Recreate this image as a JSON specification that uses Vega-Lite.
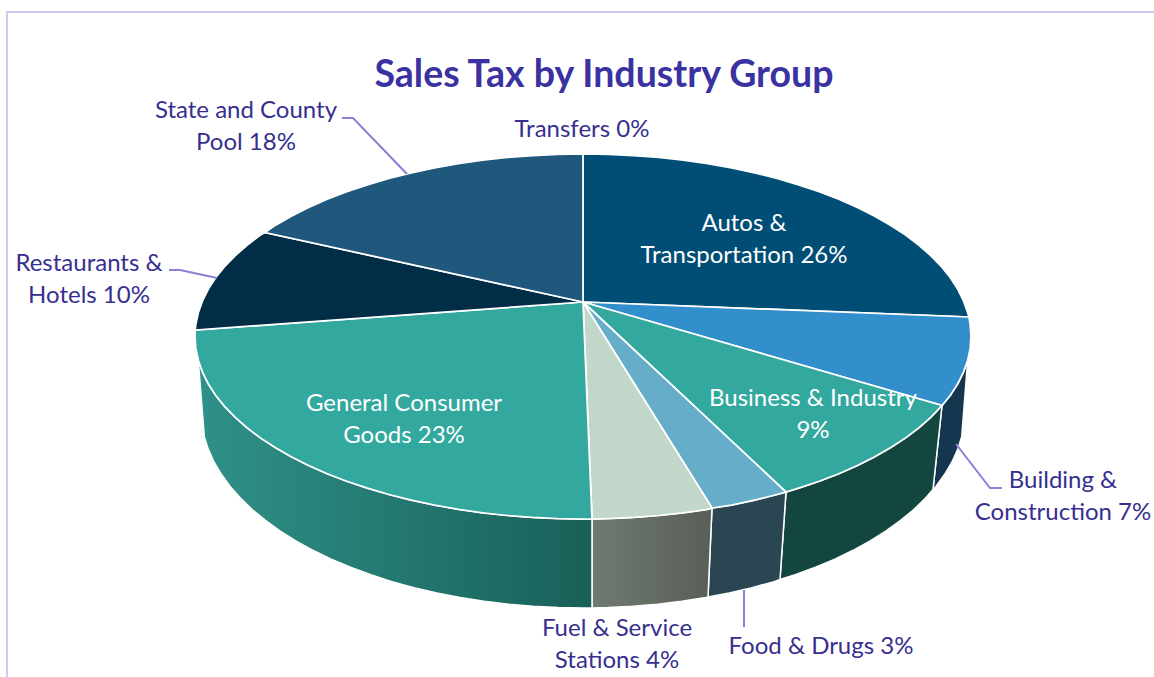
{"$schema":"https://vega.github.io/schema/vega-lite/v6.json","width":1154,"height":677,"padding":0,"autosize":"none","background":"white","config":{"view":{"stroke":null}},
"title":{"text":"Sales Tax by Industry Group","font":"Lato","fontSize":37.5,"fontWeight":"bold","color":"#3A32A0","anchor":"middle","frame":"group","offset":-88,"dy":36,"dx":27,"baseline":"alphabetic"},
"resolve":{"scale":{"fill":"independent"}},
"datasets":{
"top":[
{"slice":"Autos & Transportation","seq":0,"x":583,"y":302},{"slice":"Autos & Transportation","seq":1,"x":583,"y":154},{"slice":"Autos & Transportation","seq":2,"x":633.6,"y":155.6},{"slice":"Autos & Transportation","seq":3,"x":683.4,"y":160.2},{"slice":"Autos & Transportation","seq":4,"x":731.5,"y":167.9},{"slice":"Autos & Transportation","seq":5,"x":777,"y":178.5},{"slice":"Autos & Transportation","seq":6,"x":819.2,"y":191.7},{"slice":"Autos & Transportation","seq":7,"x":857.4,"y":207.5},{"slice":"Autos & Transportation","seq":8,"x":890.8,"y":225.4},{"slice":"Autos & Transportation","seq":9,"x":919,"y":245.25},{"slice":"Autos & Transportation","seq":10,"x":941.5,"y":266.7},{"slice":"Autos & Transportation","seq":11,"x":957.8,"y":289.3},{"slice":"Autos & Transportation","seq":12,"x":967.7,"y":312.7},{"slice":"Autos & Transportation","seq":13,"x":969,"y":317},{"slice":"Autos & Transportation","seq":14,"x":583,"y":302},
{"slice":"Autos & Transportation","seq":1.5,"x":608.4,"y":154.4},{"slice":"Autos & Transportation","seq":2.5,"x":658.7,"y":157.5},{"slice":"Autos & Transportation","seq":3.5,"x":707.7,"y":163.7},{"slice":"Autos & Transportation","seq":4.5,"x":754.6,"y":172.8},{"slice":"Autos & Transportation","seq":5.5,"x":798.6,"y":184.8},{"slice":"Autos & Transportation","seq":6.5,"x":838.8,"y":199.3},{"slice":"Autos & Transportation","seq":7.5,"x":874.7,"y":216.2},{"slice":"Autos & Transportation","seq":8.5,"x":905.6,"y":235.1},{"slice":"Autos & Transportation","seq":9.5,"x":931,"y":255.8},{"slice":"Autos & Transportation","seq":10.5,"x":950.4,"y":277.8},{"slice":"Autos & Transportation","seq":11.5,"x":963.5,"y":300.9},
{"slice":"Building & Construction","seq":0,"x":583,"y":302},{"slice":"Building & Construction","seq":1,"x":969,"y":317},{"slice":"Building & Construction","seq":1.5,"x":970.2,"y":324.6},{"slice":"Building & Construction","seq":2,"x":971,"y":336.5},{"slice":"Building & Construction","seq":2.5,"x":970.2,"y":348.4},{"slice":"Building & Construction","seq":3,"x":967.7,"y":360.3},{"slice":"Building & Construction","seq":3.5,"x":963.5,"y":372.1},{"slice":"Building & Construction","seq":4,"x":957.8,"y":383.7},{"slice":"Building & Construction","seq":4.5,"x":950.4,"y":395.2},{"slice":"Building & Construction","seq":5,"x":942,"y":405.5},{"slice":"Building & Construction","seq":6,"x":583,"y":302},
{"slice":"Business & Industry","seq":0,"x":583,"y":302},{"slice":"Business & Industry","seq":1,"x":942,"y":405.5},{"slice":"Business & Industry","seq":1.5,"x":931,"y":417.2},{"slice":"Business & Industry","seq":2,"x":919,"y":427.75},{"slice":"Business & Industry","seq":2.5,"x":905.6,"y":437.9},{"slice":"Business & Industry","seq":3,"x":890.8,"y":447.6},{"slice":"Business & Industry","seq":3.5,"x":874.7,"y":456.8},{"slice":"Business & Industry","seq":4,"x":857.4,"y":465.5},{"slice":"Business & Industry","seq":4.5,"x":838.8,"y":473.7},{"slice":"Business & Industry","seq":5,"x":819.2,"y":481.3},{"slice":"Business & Industry","seq":5.5,"x":798.6,"y":488.2},{"slice":"Business & Industry","seq":6,"x":786,"y":492},{"slice":"Business & Industry","seq":7,"x":583,"y":302},
{"slice":"Food & Drugs","seq":0,"x":583,"y":302},{"slice":"Food & Drugs","seq":1,"x":786,"y":492},{"slice":"Food & Drugs","seq":1.3,"x":777,"y":494.5},{"slice":"Food & Drugs","seq":1.6,"x":754.6,"y":500.2},{"slice":"Food & Drugs","seq":2,"x":731.5,"y":505.1},{"slice":"Food & Drugs","seq":3,"x":712,"y":508},{"slice":"Food & Drugs","seq":4,"x":583,"y":302},
{"slice":"Fuel & Service Stations","seq":0,"x":583,"y":302},{"slice":"Fuel & Service Stations","seq":1,"x":712,"y":508},{"slice":"Fuel & Service Stations","seq":1.5,"x":707.7,"y":509.3},{"slice":"Fuel & Service Stations","seq":2,"x":683.4,"y":512.8},{"slice":"Fuel & Service Stations","seq":2.5,"x":658.7,"y":515.5},{"slice":"Fuel & Service Stations","seq":3,"x":633.6,"y":517.4},{"slice":"Fuel & Service Stations","seq":3.5,"x":608.4,"y":518.6},{"slice":"Fuel & Service Stations","seq":4,"x":592,"y":519},{"slice":"Fuel & Service Stations","seq":5,"x":583,"y":302},
{"slice":"General Consumer Goods","seq":0,"x":583,"y":302},{"slice":"General Consumer Goods","seq":1,"x":592,"y":519},{"slice":"General Consumer Goods","seq":2,"x":583,"y":519},{"slice":"General Consumer Goods","seq":3,"x":532.4,"y":517.4},{"slice":"General Consumer Goods","seq":4,"x":482.6,"y":512.8},{"slice":"General Consumer Goods","seq":5,"x":434.5,"y":505.1},{"slice":"General Consumer Goods","seq":6,"x":389,"y":494.5},{"slice":"General Consumer Goods","seq":7,"x":346.8,"y":481.3},{"slice":"General Consumer Goods","seq":8,"x":308.6,"y":465.5},{"slice":"General Consumer Goods","seq":9,"x":275.2,"y":447.6},{"slice":"General Consumer Goods","seq":10,"x":247,"y":427.75},{"slice":"General Consumer Goods","seq":11,"x":224.5,"y":406.3},{"slice":"General Consumer Goods","seq":12,"x":208.2,"y":383.7},{"slice":"General Consumer Goods","seq":13,"x":198.3,"y":360.3},{"slice":"General Consumer Goods","seq":14,"x":195,"y":336.5},{"slice":"General Consumer Goods","seq":15,"x":195.2,"y":330},{"slice":"General Consumer Goods","seq":16,"x":583,"y":302},
{"slice":"General Consumer Goods","seq":2.5,"x":557.6,"y":518.6},{"slice":"General Consumer Goods","seq":3.5,"x":507.3,"y":515.5},{"slice":"General Consumer Goods","seq":4.5,"x":458.3,"y":509.3},{"slice":"General Consumer Goods","seq":5.5,"x":411.4,"y":500.2},{"slice":"General Consumer Goods","seq":6.5,"x":367.4,"y":488.2},{"slice":"General Consumer Goods","seq":7.5,"x":327.2,"y":473.7},{"slice":"General Consumer Goods","seq":8.5,"x":291.3,"y":456.8},{"slice":"General Consumer Goods","seq":9.5,"x":260.4,"y":437.9},{"slice":"General Consumer Goods","seq":10.5,"x":235,"y":417.2},{"slice":"General Consumer Goods","seq":11.5,"x":215.6,"y":395.2},{"slice":"General Consumer Goods","seq":12.5,"x":202.5,"y":372.1},{"slice":"General Consumer Goods","seq":13.5,"x":195.8,"y":348.4},
{"slice":"Restaurants & Hotels","seq":0,"x":583,"y":302},{"slice":"Restaurants & Hotels","seq":1,"x":195.2,"y":330},{"slice":"Restaurants & Hotels","seq":1.5,"x":195.8,"y":324.6},{"slice":"Restaurants & Hotels","seq":2,"x":198.3,"y":312.7},{"slice":"Restaurants & Hotels","seq":2.5,"x":202.5,"y":300.9},{"slice":"Restaurants & Hotels","seq":3,"x":208.2,"y":289.3},{"slice":"Restaurants & Hotels","seq":3.5,"x":215.6,"y":277.8},{"slice":"Restaurants & Hotels","seq":4,"x":224.5,"y":266.7},{"slice":"Restaurants & Hotels","seq":4.5,"x":235,"y":255.8},{"slice":"Restaurants & Hotels","seq":5,"x":247,"y":245.25},{"slice":"Restaurants & Hotels","seq":5.5,"x":260.4,"y":235.1},{"slice":"Restaurants & Hotels","seq":6,"x":265,"y":232.5},{"slice":"Restaurants & Hotels","seq":7,"x":583,"y":302},
{"slice":"State and County Pool","seq":0,"x":583,"y":302},{"slice":"State and County Pool","seq":1,"x":265,"y":232.5},{"slice":"State and County Pool","seq":2,"x":275.2,"y":225.4},{"slice":"State and County Pool","seq":2.5,"x":291.3,"y":216.2},{"slice":"State and County Pool","seq":3,"x":308.6,"y":207.5},{"slice":"State and County Pool","seq":3.5,"x":327.2,"y":199.3},{"slice":"State and County Pool","seq":4,"x":346.8,"y":191.7},{"slice":"State and County Pool","seq":4.5,"x":367.4,"y":184.8},{"slice":"State and County Pool","seq":5,"x":389,"y":178.5},{"slice":"State and County Pool","seq":5.5,"x":411.4,"y":172.8},{"slice":"State and County Pool","seq":6,"x":434.5,"y":167.9},{"slice":"State and County Pool","seq":6.5,"x":458.3,"y":163.7},{"slice":"State and County Pool","seq":7,"x":482.6,"y":160.2},{"slice":"State and County Pool","seq":7.5,"x":507.3,"y":157.5},{"slice":"State and County Pool","seq":8,"x":532.4,"y":155.6},{"slice":"State and County Pool","seq":8.5,"x":557.6,"y":154.4},{"slice":"State and County Pool","seq":9,"x":583,"y":154},{"slice":"State and County Pool","seq":10,"x":583,"y":302}
],
"side":[
{"slice":"Building & Construction","seq":0,"x":967.7,"y":360.3},{"slice":"Building & Construction","seq":0.5,"x":963.5,"y":372.1},{"slice":"Building & Construction","seq":1,"x":957.8,"y":383.7},{"slice":"Building & Construction","seq":1.5,"x":950.4,"y":395.2},{"slice":"Building & Construction","seq":2,"x":942,"y":405.5},{"slice":"Building & Construction","seq":3,"x":933,"y":489.5},{"slice":"Building & Construction","seq":4,"x":935.9,"y":486.4},{"slice":"Building & Construction","seq":4.5,"x":944.7,"y":474.3},{"slice":"Building & Construction","seq":5,"x":952,"y":462},{"slice":"Building & Construction","seq":5.5,"x":957.7,"y":449.4},{"slice":"Building & Construction","seq":6,"x":961.7,"y":436.7},{"slice":"Building & Construction","seq":7,"x":967.7,"y":360.3},
{"slice":"Business & Industry","seq":0,"x":942,"y":405.5},{"slice":"Business & Industry","seq":0.5,"x":931,"y":417.2},{"slice":"Business & Industry","seq":1,"x":919,"y":427.75},{"slice":"Business & Industry","seq":1.5,"x":905.6,"y":437.9},{"slice":"Business & Industry","seq":2,"x":890.8,"y":447.6},{"slice":"Business & Industry","seq":2.5,"x":874.7,"y":456.8},{"slice":"Business & Industry","seq":3,"x":857.4,"y":465.5},{"slice":"Business & Industry","seq":3.5,"x":838.8,"y":473.7},{"slice":"Business & Industry","seq":4,"x":819.2,"y":481.3},{"slice":"Business & Industry","seq":4.5,"x":798.6,"y":488.2},{"slice":"Business & Industry","seq":5,"x":786,"y":492},{"slice":"Business & Industry","seq":6,"x":780,"y":579.5},{"slice":"Business & Industry","seq":6.5,"x":795.2,"y":574.8},{"slice":"Business & Industry","seq":7,"x":815.5,"y":567.3},{"slice":"Business & Industry","seq":7.5,"x":834.9,"y":559.1},{"slice":"Business & Industry","seq":8,"x":853.1,"y":550.3},{"slice":"Business & Industry","seq":8.5,"x":870.2,"y":540.9},{"slice":"Business & Industry","seq":9,"x":886.1,"y":530.9},{"slice":"Business & Industry","seq":9.5,"x":900.6,"y":520.4},{"slice":"Business & Industry","seq":10,"x":913.8,"y":509.5},{"slice":"Business & Industry","seq":10.5,"x":925.6,"y":498.1},{"slice":"Business & Industry","seq":11,"x":933,"y":489.5},{"slice":"Business & Industry","seq":12,"x":942,"y":405.5},
{"slice":"Food & Drugs","seq":0,"x":786,"y":492},{"slice":"Food & Drugs","seq":0.3,"x":777,"y":494.5},{"slice":"Food & Drugs","seq":0.6,"x":754.6,"y":500.2},{"slice":"Food & Drugs","seq":1,"x":731.5,"y":505.1},{"slice":"Food & Drugs","seq":2,"x":712,"y":508},{"slice":"Food & Drugs","seq":3,"x":708,"y":597},{"slice":"Food & Drugs","seq":4,"x":729.2,"y":593},{"slice":"Food & Drugs","seq":4.5,"x":752,"y":587.7},{"slice":"Food & Drugs","seq":5,"x":774,"y":581.6},{"slice":"Food & Drugs","seq":6,"x":780,"y":579.5},{"slice":"Food & Drugs","seq":7,"x":786,"y":492},
{"slice":"Fuel & Service Stations","seq":0,"x":712,"y":508},{"slice":"Fuel & Service Stations","seq":0.5,"x":707.7,"y":509.3},{"slice":"Fuel & Service Stations","seq":1,"x":683.4,"y":512.8},{"slice":"Fuel & Service Stations","seq":1.5,"x":658.7,"y":515.5},{"slice":"Fuel & Service Stations","seq":2,"x":633.6,"y":517.4},{"slice":"Fuel & Service Stations","seq":2.5,"x":608.4,"y":518.6},{"slice":"Fuel & Service Stations","seq":3,"x":592,"y":519},{"slice":"Fuel & Service Stations","seq":4,"x":592,"y":608},{"slice":"Fuel & Service Stations","seq":4.5,"x":608,"y":607.6},{"slice":"Fuel & Service Stations","seq":5,"x":632.9,"y":606.3},{"slice":"Fuel & Service Stations","seq":5.5,"x":657.5,"y":604.2},{"slice":"Fuel & Service Stations","seq":6,"x":681.9,"y":601.3},{"slice":"Fuel & Service Stations","seq":6.5,"x":705.8,"y":597.5},{"slice":"Fuel & Service Stations","seq":7,"x":708,"y":597},{"slice":"Fuel & Service Stations","seq":8,"x":712,"y":508},
{"slice":"General Consumer Goods","seq":0,"x":592,"y":519},{"slice":"General Consumer Goods","seq":1,"x":583,"y":519},{"slice":"General Consumer Goods","seq":2,"x":532.4,"y":517.4},{"slice":"General Consumer Goods","seq":3,"x":482.6,"y":512.8},{"slice":"General Consumer Goods","seq":4,"x":434.5,"y":505.1},{"slice":"General Consumer Goods","seq":5,"x":389,"y":494.5},{"slice":"General Consumer Goods","seq":6,"x":346.8,"y":481.3},{"slice":"General Consumer Goods","seq":7,"x":308.6,"y":465.5},{"slice":"General Consumer Goods","seq":8,"x":275.2,"y":447.6},{"slice":"General Consumer Goods","seq":9,"x":247,"y":427.75},{"slice":"General Consumer Goods","seq":10,"x":224.5,"y":406.3},{"slice":"General Consumer Goods","seq":11,"x":208.2,"y":383.7},{"slice":"General Consumer Goods","seq":12,"x":198.3,"y":360.3},{"slice":"General Consumer Goods","seq":13,"x":204.3,"y":436.7},{"slice":"General Consumer Goods","seq":14,"x":214,"y":462},{"slice":"General Consumer Goods","seq":15,"x":230.1,"y":486.4},{"slice":"General Consumer Goods","seq":16,"x":252.2,"y":509.5},{"slice":"General Consumer Goods","seq":17,"x":279.9,"y":530.9},{"slice":"General Consumer Goods","seq":18,"x":312.9,"y":550.3},{"slice":"General Consumer Goods","seq":19,"x":350.5,"y":567.3},{"slice":"General Consumer Goods","seq":20,"x":392,"y":581.6},{"slice":"General Consumer Goods","seq":21,"x":436.8,"y":593},{"slice":"General Consumer Goods","seq":22,"x":484.1,"y":601.3},{"slice":"General Consumer Goods","seq":23,"x":533.1,"y":606.3},{"slice":"General Consumer Goods","seq":24,"x":583,"y":608},{"slice":"General Consumer Goods","seq":25,"x":592,"y":608},{"slice":"General Consumer Goods","seq":26,"x":592,"y":519},
{"slice":"General Consumer Goods","seq":1.5,"x":557.6,"y":518.6},{"slice":"General Consumer Goods","seq":2.5,"x":507.3,"y":515.5},{"slice":"General Consumer Goods","seq":3.5,"x":458.3,"y":509.3},{"slice":"General Consumer Goods","seq":4.5,"x":411.4,"y":500.2},{"slice":"General Consumer Goods","seq":5.5,"x":367.4,"y":488.2},{"slice":"General Consumer Goods","seq":6.5,"x":327.2,"y":473.7},{"slice":"General Consumer Goods","seq":7.5,"x":291.3,"y":456.8},{"slice":"General Consumer Goods","seq":8.5,"x":260.4,"y":437.9},{"slice":"General Consumer Goods","seq":9.5,"x":235,"y":417.2},{"slice":"General Consumer Goods","seq":10.5,"x":215.6,"y":395.2},{"slice":"General Consumer Goods","seq":11.5,"x":202.5,"y":372.1},{"slice":"General Consumer Goods","seq":13.5,"x":208.3,"y":449.4},{"slice":"General Consumer Goods","seq":14.5,"x":221.3,"y":474.3},{"slice":"General Consumer Goods","seq":15.5,"x":240.4,"y":498.1},{"slice":"General Consumer Goods","seq":16.5,"x":265.4,"y":520.4},{"slice":"General Consumer Goods","seq":17.5,"x":295.8,"y":540.9},{"slice":"General Consumer Goods","seq":18.5,"x":331.1,"y":559.1},{"slice":"General Consumer Goods","seq":19.5,"x":370.8,"y":574.8},{"slice":"General Consumer Goods","seq":20.5,"x":414,"y":587.7},{"slice":"General Consumer Goods","seq":21.5,"x":460.2,"y":597.5},{"slice":"General Consumer Goods","seq":22.5,"x":508.5,"y":604.2},{"slice":"General Consumer Goods","seq":23.5,"x":558,"y":607.6}
],
"guides":[
{"guide":"frame","seq":0,"x":7,"y":677},{"guide":"frame","seq":1,"x":7,"y":12},{"guide":"frame","seq":2,"x":1154,"y":12}
],
"leaders":[
{"label":"State and County Pool","seq":0,"x":342,"y":118},{"label":"State and County Pool","seq":1,"x":353,"y":118},{"label":"State and County Pool","seq":2,"x":407,"y":174},
{"label":"Restaurants & Hotels","seq":0,"x":169,"y":270},{"label":"Restaurants & Hotels","seq":1,"x":180,"y":270},{"label":"Restaurants & Hotels","seq":2,"x":217,"y":278},
{"label":"Building & Construction","seq":0,"x":956,"y":444},{"label":"Building & Construction","seq":1,"x":990,"y":488},{"label":"Building & Construction","seq":2,"x":1002,"y":488},
{"label":"Food & Drugs","seq":0,"x":744,"y":590},{"label":"Food & Drugs","seq":1,"x":744,"y":627}
],
"labels":[
{"text":"Autos &\nTransportation 26%","where":"inside","x":744,"y":231},
{"text":"Business & Industry\n9%","where":"inside","x":813,"y":406},
{"text":"General Consumer\nGoods 23%","where":"inside","x":404,"y":411},
{"text":"Building &\nConstruction 7%","where":"outside","x":1063,"y":488},
{"text":"Food & Drugs 3%","where":"outside","x":821,"y":654},
{"text":"Fuel & Service\nStations 4%","where":"outside","x":617,"y":636},
{"text":"Restaurants &\nHotels 10%","where":"outside","x":89,"y":271},
{"text":"State and County\nPool 18%","where":"outside","x":246,"y":118},
{"text":"Transfers 0%","where":"outside","x":582,"y":137}
]},
"encoding":{
"x":{"field":"x","type":"quantitative","scale":{"domain":[0,1154]},"axis":null},
"y":{"field":"y","type":"quantitative","scale":{"domain":[677,0]},"axis":null}
},
"layer":[
{"data":{"name":"guides"},"mark":{"type":"line","stroke":"#D0CCF0","strokeWidth":2},"encoding":{"order":{"field":"seq"}}},
{"data":{"name":"side"},"transform":[{"filter":{"field":"slice","oneOf":["Building & Construction","Business & Industry","Food & Drugs"]}}],"mark":{"type":"line","stroke":"white","strokeWidth":1.5},"encoding":{"order":{"field":"seq"},"detail":{"field":"slice"},"fill":{"field":"slice","type":"nominal","legend":null,"scale":{"domain":["Building & Construction","Business & Industry","Food & Drugs"],"range":["#14374F","#144640","#2A4653"]}}}},
{"data":{"name":"side"},"transform":[{"filter":{"field":"slice","equal":"Fuel & Service Stations"}}],"mark":{"type":"line","stroke":"white","strokeWidth":1.5,"fill":{"gradient":"linear","x1":0,"y1":0,"x2":1,"y2":0,"stops":[{"offset":0,"color":"#6F7A70"},{"offset":1,"color":"#595F56"}]}},"encoding":{"order":{"field":"seq"}}},
{"data":{"name":"side"},"transform":[{"filter":{"field":"slice","equal":"General Consumer Goods"}}],"mark":{"type":"line","stroke":"white","strokeWidth":1.5,"fill":{"gradient":"linear","x1":0,"y1":0,"x2":1,"y2":0,"stops":[{"offset":0,"color":"#2F9188"},{"offset":1,"color":"#186058"}]}},"encoding":{"order":{"field":"seq"}}},
{"data":{"name":"top"},"mark":{"type":"line","stroke":"white","strokeWidth":1.75},"encoding":{"order":{"field":"seq"},"detail":{"field":"slice"},"fill":{"field":"slice","type":"nominal","legend":null,"scale":{"domain":["Autos & Transportation","Building & Construction","Business & Industry","Food & Drugs","Fuel & Service Stations","General Consumer Goods","Restaurants & Hotels","State and County Pool"],"range":["#004E75","#338FCC","#33A89F","#65ADC8","#C0D7C9","#33A89F","#012E46","#1F577D"]}}}},
{"data":{"name":"leaders"},"mark":{"type":"line","stroke":"#8B7FD6","strokeWidth":2},"encoding":{"order":{"field":"seq"},"detail":{"field":"label"}}},
{"data":{"name":"labels"},"transform":[{"filter":{"field":"where","equal":"inside"}}],"mark":{"type":"text","font":"Lato","fontSize":24,"lineHeight":32,"lineBreak":"\n","align":"center","baseline":"alphabetic","color":"white"},"encoding":{"text":{"field":"text"}}},
{"data":{"name":"labels"},"transform":[{"filter":{"field":"where","equal":"outside"}}],"mark":{"type":"text","font":"Lato","fontSize":24,"lineHeight":32,"lineBreak":"\n","align":"center","baseline":"alphabetic","color":"#362F8F"},"encoding":{"text":{"field":"text"}}}
]}
